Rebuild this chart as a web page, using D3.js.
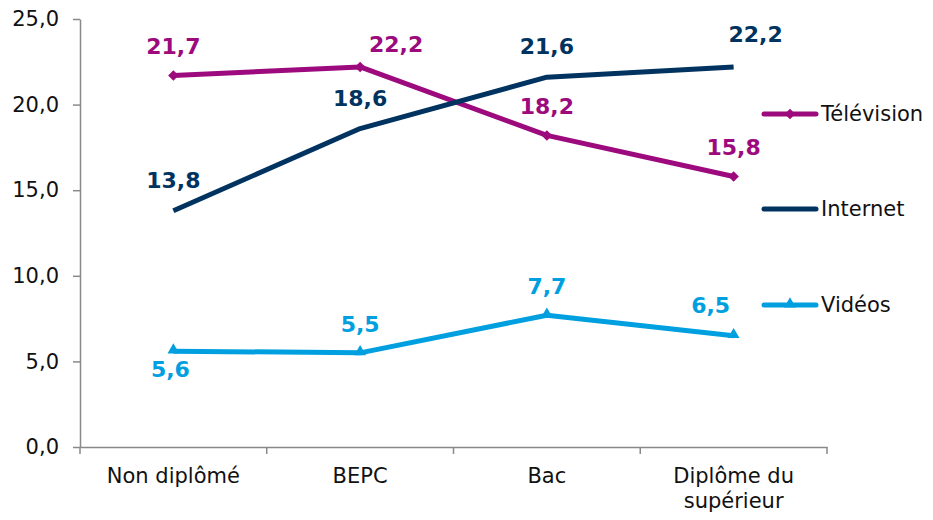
<!DOCTYPE html>
<html><head><meta charset="utf-8">
<script src="https://cdn.jsdelivr.net/npm/d3@7"></script>
<style>body{margin:0;background:#fff;} svg{display:block;}</style>
</head><body>
<svg id="c" width="933" height="520"></svg>
<script>
const categories = ["Non diplômé", "BEPC", "Bac", "Diplôme du\nsupérieur"];
const television = [21.7, 22.2, 18.2, 15.8];
const internet = [13.8, 18.6, 21.6, 22.2];
const videos = [5.6, 5.5, 7.7, 6.5];
const yTicks = [0, 5, 10, 15, 20, 25];

const series = [
  {name: "Télévision", values: television, color: "#9C0A7D", marker: "diamond",
   labelOff: [[0,-29],[36,-23],[0,-29],[0,-29]]},
  {name: "Internet", values: internet, color: "#00335F", marker: "none",
   labelOff: [[0,-30],[0,-30],[0,-31],[22,-33]]},
  {name: "Vidéos", values: videos, color: "#00A0E0", marker: "triangle",
   labelOff: [[-3,18],[0,-29],[0,-29],[-23,-30]]}
];

const svg = d3.select("#c");
const fontF = "Verdana, 'DejaVu Sans', sans-serif";
const mLeft = 80, mRight = 827, mTop = 19, mBottom = 447;
const x = d3.scaleBand().domain(categories).range([mLeft, mRight]);
const y = d3.scaleLinear().domain([0, 25]).range([mBottom, mTop]);
const cx = c => x(c) + x.bandwidth() / 2;
const fmt = v => v.toFixed(1).replace(".", ",");

// Y axis
const yAxis = svg.append("g").attr("transform", `translate(${mLeft},0)`)
  .call(d3.axisLeft(y).tickValues(yTicks).tickSize(7).tickSizeOuter(0).tickFormat(fmt));
yAxis.select(".domain").attr("stroke", "#898989").attr("stroke-width", 1.5);
yAxis.selectAll(".tick line").attr("stroke", "#898989").attr("stroke-width", 1.5);
yAxis.selectAll(".tick text").attr("font-family", fontF).attr("font-size", 21).attr("fill", "#111").attr("x", -21);

// X axis
const xAxis = svg.append("g").attr("transform", `translate(0,${mBottom})`)
  .call(d3.axisBottom(x).tickSize(0).tickSizeOuter(0));
xAxis.select(".domain").attr("stroke", "#898989").attr("stroke-width", 1.5);
xAxis.selectAll(".tick text").remove();
const bounds = categories.map(c => x(c)).concat([mRight]);
xAxis.selectAll("line.sep").data(bounds).enter().append("line")
  .attr("x1", d => d).attr("x2", d => d).attr("y1", 0).attr("y2", 7)
  .attr("stroke", "#898989").attr("stroke-width", 1.5);
categories.forEach(c => {
  const lines = c.split("\n");
  const t = svg.append("text").attr("x", cx(c)).attr("y", 483)
    .attr("text-anchor", "middle").attr("font-family", fontF).attr("font-size", 21).attr("fill", "#111");
  lines.forEach((l, i) => t.append("tspan").attr("x", cx(c)).attr("dy", i === 0 ? 0 : 25).text(l));
});

const line = d3.line().x((d, i) => cx(categories[i])).y(d => y(d));
const diamond = d3.symbol().type(d3.symbolSquare).size(55);
const triangle = d3.symbol().type(d3.symbolTriangle).size(60);
const markerTf = (m, px, py) => m === "diamond" ? `translate(${px},${py}) rotate(45)` : `translate(${px},${py - 1})`;

series.forEach(s => {
  svg.append("path").datum(s.values).attr("d", line).attr("fill", "none")
    .attr("stroke", s.color).attr("stroke-width", 5).attr("stroke-linejoin", "round");
  if (s.marker !== "none") {
    svg.selectAll(null).data(s.values).enter().append("path")
      .attr("d", s.marker === "diamond" ? diamond : triangle)
      .attr("transform", (d, i) => markerTf(s.marker, cx(categories[i]), y(d)))
      .attr("fill", s.color);
  }
  svg.selectAll(null).data(s.values).enter().append("text")
    .attr("x", (d, i) => cx(categories[i]) + s.labelOff[i][0])
    .attr("y", (d, i) => y(d) + s.labelOff[i][1])
    .attr("dy", "0.35em").attr("text-anchor", "middle")
    .attr("font-family", fontF).attr("font-size", 22).attr("font-weight", "bold")
    .attr("fill", s.color).text(d => fmt(d));
});

// Legend
const legY = [114, 209, 305];
series.forEach((s, i) => {
  const g = svg.append("g").attr("transform", `translate(0,${legY[i]})`);
  g.append("line").attr("x1", 764).attr("x2", 816).attr("y1", 0).attr("y2", 0)
    .attr("stroke", s.color).attr("stroke-width", 5).attr("stroke-linecap", "round");
  if (s.marker !== "none") {
    g.append("path").attr("d", s.marker === "diamond" ? diamond : triangle)
      .attr("transform", markerTf(s.marker, 790, 0)).attr("fill", s.color);
  }
  g.append("text").attr("x", 821).attr("y", 0).attr("dy", "0.35em")
    .attr("font-family", fontF).attr("font-size", 21).attr("fill", "#111").text(s.name);
});
</script>
</body></html>
